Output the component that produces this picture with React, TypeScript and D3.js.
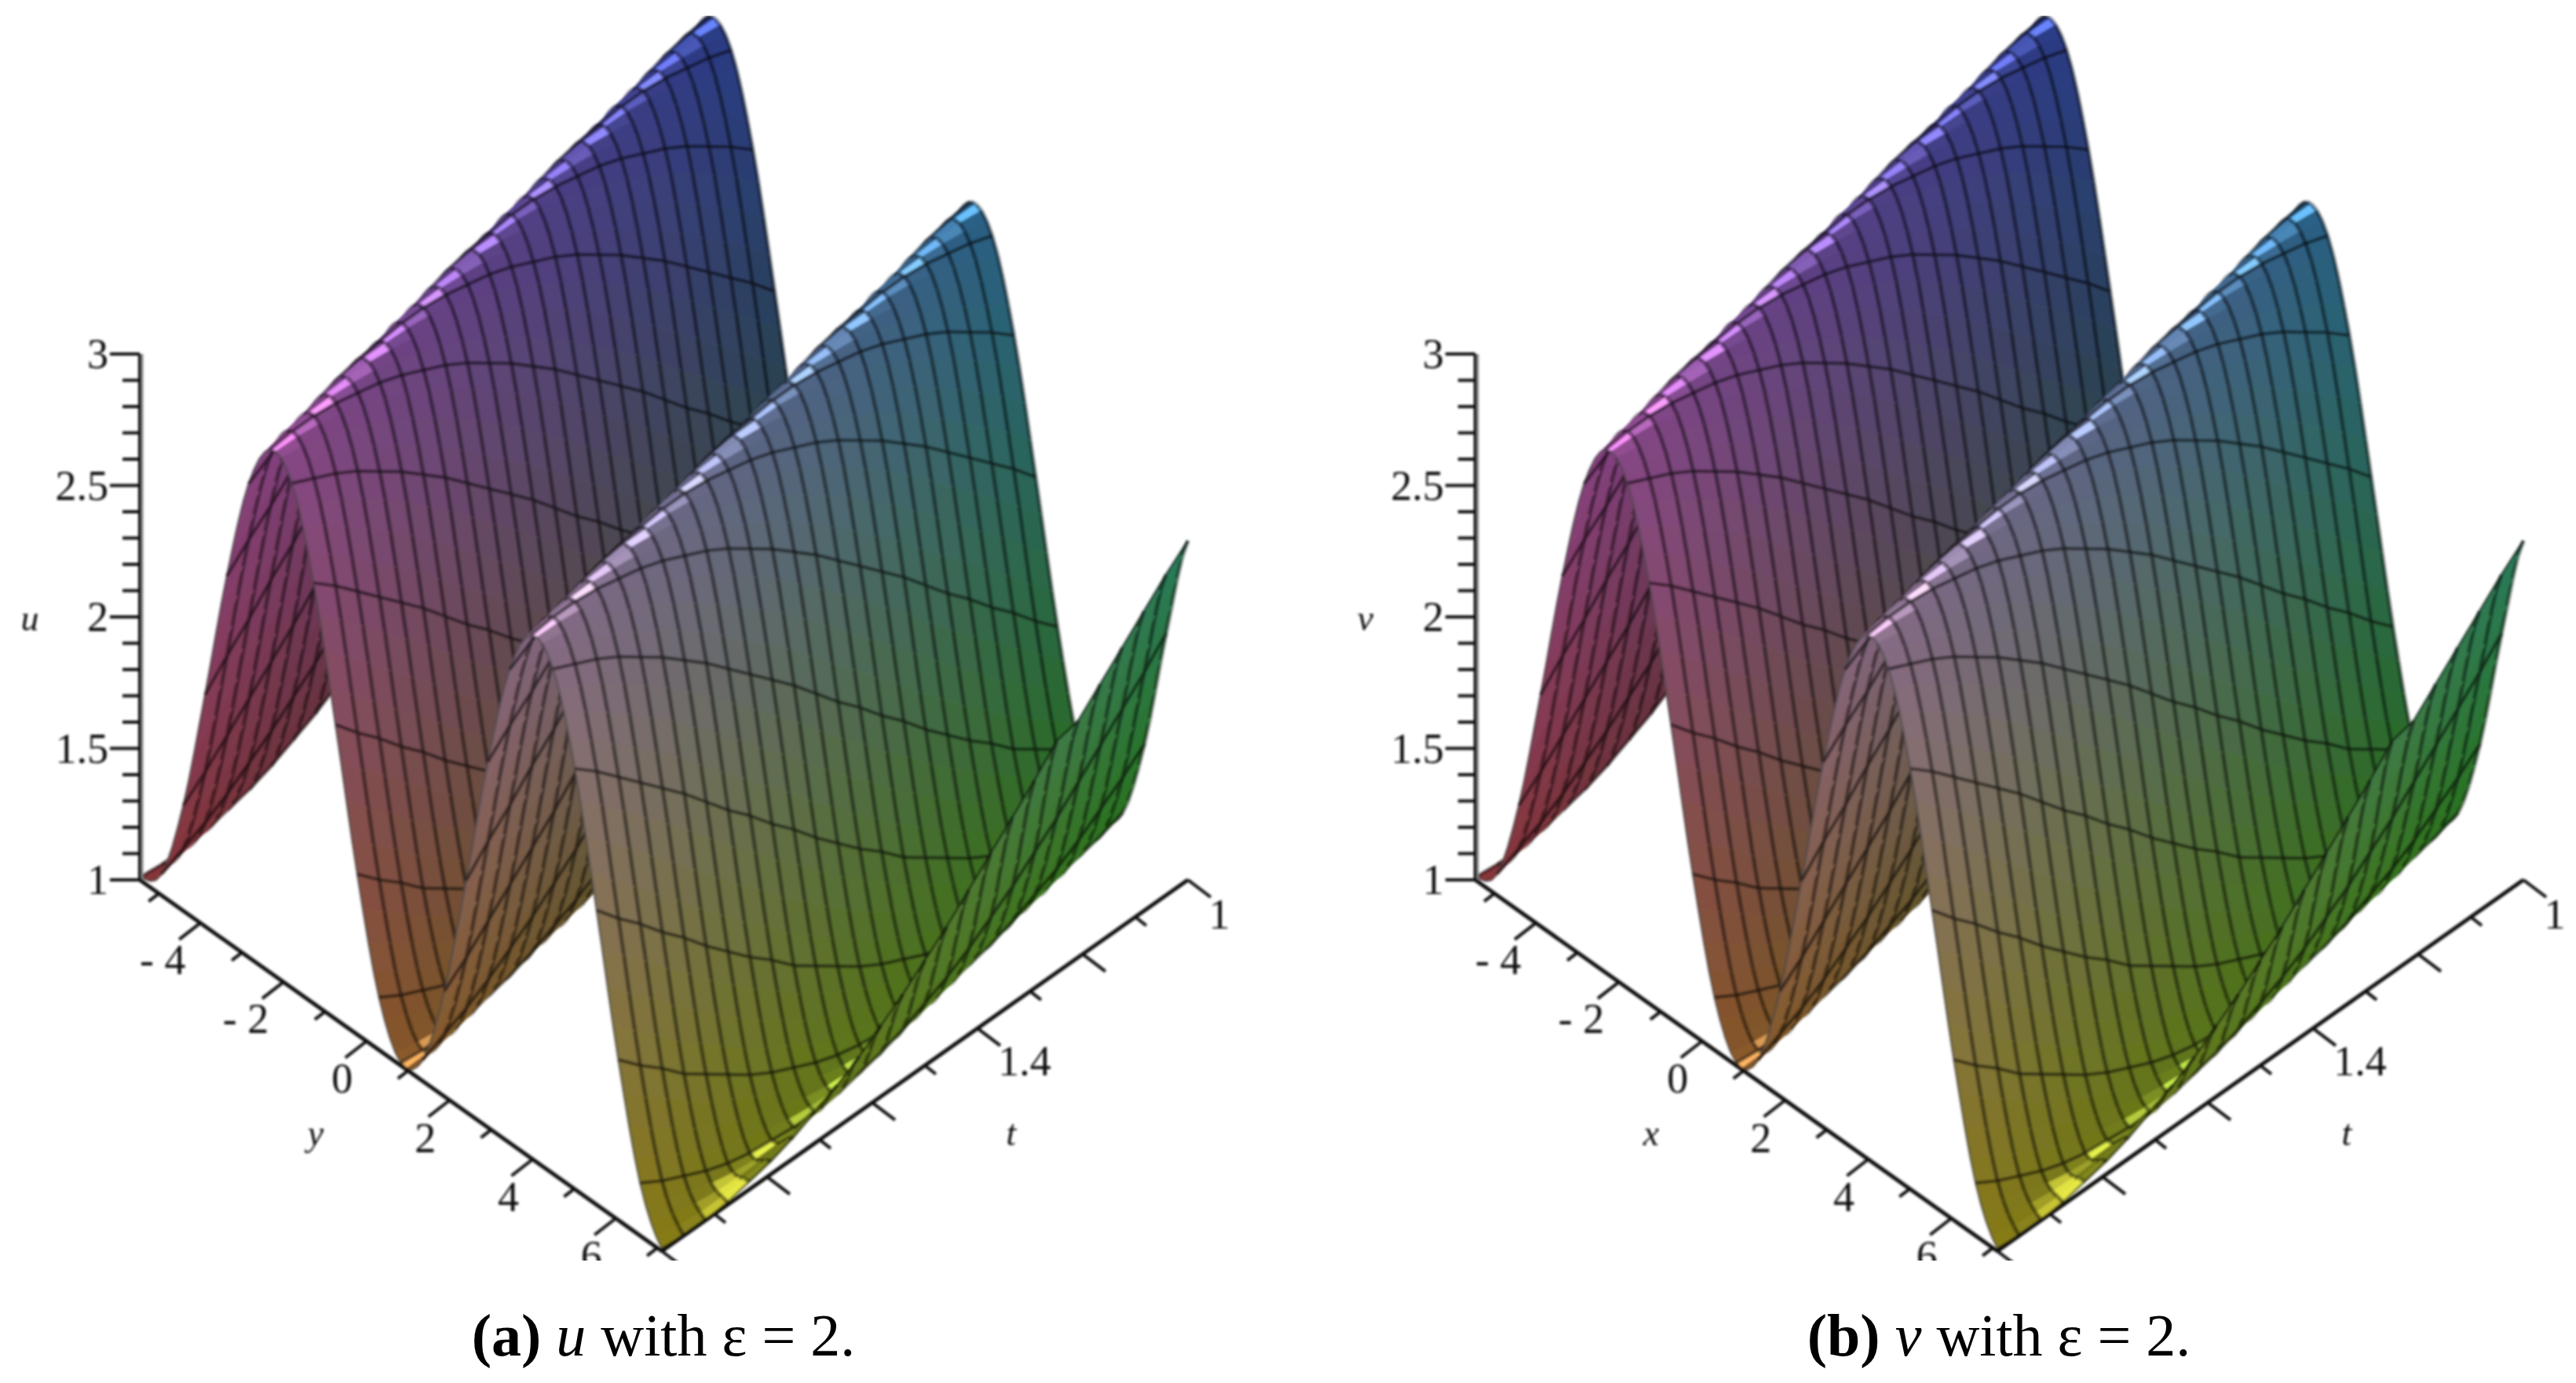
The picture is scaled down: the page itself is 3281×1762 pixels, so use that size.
import React, { useRef, useEffect } from "react";
import * as d3 from "d3";

// surface heights, row 0 is t = 2, row 24 is t = 1, columns run along the y axis
const uGrid = [
  [1.01,1.08,1.40,1.88,2.39,2.80,2.99,2.92,2.60,2.12,1.61,1.20,1.01,1.08,1.40,1.88,2.39,2.80,2.99,2.92,2.60,2.12,1.61,1.20,1.01],
  [1.00,1.12,1.47,1.97,2.47,2.85,3.00,2.88,2.53,2.03,1.53,1.15,1.00,1.12,1.47,1.97,2.47,2.85,3.00,2.88,2.53,2.03,1.53,1.15,1.00],
  [1.00,1.16,1.55,2.05,2.54,2.89,3.00,2.84,2.45,1.95,1.46,1.11,1.00,1.16,1.55,2.05,2.54,2.89,3.00,2.84,2.45,1.95,1.46,1.11,1.00],
  [1.01,1.21,1.63,2.14,2.62,2.93,2.99,2.79,2.37,1.86,1.38,1.07,1.01,1.21,1.63,2.14,2.62,2.93,2.99,2.79,2.37,1.86,1.38,1.07,1.01],
  [1.03,1.27,1.71,2.22,2.68,2.96,2.97,2.73,2.29,1.78,1.32,1.04,1.03,1.27,1.71,2.22,2.68,2.96,2.97,2.73,2.29,1.78,1.32,1.04,1.03],
  [1.05,1.33,1.79,2.31,2.74,2.98,2.95,2.67,2.21,1.69,1.26,1.02,1.05,1.33,1.79,2.31,2.74,2.98,2.95,2.67,2.21,1.69,1.26,1.02,1.05],
  [1.08,1.40,1.88,2.39,2.80,2.99,2.92,2.60,2.12,1.61,1.20,1.01,1.08,1.40,1.88,2.39,2.80,2.99,2.92,2.60,2.12,1.61,1.20,1.01,1.08],
  [1.12,1.47,1.97,2.47,2.85,3.00,2.88,2.53,2.03,1.53,1.15,1.00,1.12,1.47,1.97,2.47,2.85,3.00,2.88,2.53,2.03,1.53,1.15,1.00,1.12],
  [1.16,1.55,2.05,2.54,2.89,3.00,2.84,2.45,1.95,1.46,1.11,1.00,1.16,1.55,2.05,2.54,2.89,3.00,2.84,2.45,1.95,1.46,1.11,1.00,1.16],
  [1.21,1.63,2.14,2.62,2.93,2.99,2.79,2.37,1.86,1.38,1.07,1.01,1.21,1.63,2.14,2.62,2.93,2.99,2.79,2.37,1.86,1.38,1.07,1.01,1.21],
  [1.27,1.71,2.22,2.68,2.96,2.97,2.73,2.29,1.78,1.32,1.04,1.03,1.27,1.71,2.22,2.68,2.96,2.97,2.73,2.29,1.78,1.32,1.04,1.03,1.27],
  [1.33,1.79,2.31,2.74,2.98,2.95,2.67,2.21,1.69,1.26,1.02,1.05,1.33,1.79,2.31,2.74,2.98,2.95,2.67,2.21,1.69,1.26,1.02,1.05,1.33],
  [1.40,1.88,2.39,2.80,2.99,2.92,2.60,2.12,1.61,1.20,1.01,1.08,1.40,1.88,2.39,2.80,2.99,2.92,2.60,2.12,1.61,1.20,1.01,1.08,1.40],
  [1.47,1.97,2.47,2.85,3.00,2.88,2.53,2.03,1.53,1.15,1.00,1.12,1.47,1.97,2.47,2.85,3.00,2.88,2.53,2.03,1.53,1.15,1.00,1.12,1.47],
  [1.55,2.05,2.54,2.89,3.00,2.84,2.45,1.95,1.46,1.11,1.00,1.16,1.55,2.05,2.54,2.89,3.00,2.84,2.45,1.95,1.46,1.11,1.00,1.16,1.55],
  [1.63,2.14,2.62,2.93,2.99,2.79,2.37,1.86,1.38,1.07,1.01,1.21,1.63,2.14,2.62,2.93,2.99,2.79,2.37,1.86,1.38,1.07,1.01,1.21,1.63],
  [1.71,2.22,2.68,2.96,2.97,2.73,2.29,1.78,1.32,1.04,1.03,1.27,1.71,2.22,2.68,2.96,2.97,2.73,2.29,1.78,1.32,1.04,1.03,1.27,1.71],
  [1.79,2.31,2.74,2.98,2.95,2.67,2.21,1.69,1.26,1.02,1.05,1.33,1.79,2.31,2.74,2.98,2.95,2.67,2.21,1.69,1.26,1.02,1.05,1.33,1.79],
  [1.88,2.39,2.80,2.99,2.92,2.60,2.12,1.61,1.20,1.01,1.08,1.40,1.88,2.39,2.80,2.99,2.92,2.60,2.12,1.61,1.20,1.01,1.08,1.40,1.88],
  [1.97,2.47,2.85,3.00,2.88,2.53,2.03,1.53,1.15,1.00,1.12,1.47,1.97,2.47,2.85,3.00,2.88,2.53,2.03,1.53,1.15,1.00,1.12,1.47,1.90],
  [2.05,2.54,2.89,3.00,2.84,2.45,1.95,1.46,1.11,1.00,1.16,1.55,2.05,2.54,2.89,3.00,2.84,2.45,1.95,1.46,1.11,1.00,1.16,1.55,1.98],
  [2.14,2.62,2.93,2.99,2.79,2.37,1.86,1.38,1.07,1.01,1.21,1.63,2.14,2.62,2.93,2.99,2.79,2.37,1.86,1.38,1.07,1.01,1.21,1.63,2.06],
  [2.22,2.68,2.96,2.97,2.73,2.29,1.78,1.32,1.04,1.03,1.27,1.71,2.22,2.68,2.96,2.97,2.73,2.29,1.78,1.32,1.04,1.03,1.27,1.71,2.14],
  [2.31,2.74,2.98,2.95,2.67,2.21,1.69,1.26,1.02,1.05,1.33,1.79,2.31,2.74,2.98,2.95,2.67,2.21,1.69,1.26,1.02,1.05,1.33,1.79,2.22],
  [2.39,2.80,2.99,2.92,2.60,2.12,1.61,1.20,1.01,1.08,1.40,1.88,2.39,2.80,2.99,2.92,2.60,2.12,1.61,1.20,1.01,1.08,1.40,1.88,2.29],
];
const vGrid = uGrid;

const heightMajor = [1, 1.5, 2, 2.5, 3];
const heightMinor = [1.1, 1.2, 1.3, 1.4, 1.6, 1.7, 1.8, 1.9, 2.1, 2.2, 2.3, 2.4, 2.6, 2.7, 2.8, 2.9];
const spaceMajor = [-4, -2, 0, 2, 4, 6];
const spaceMinor = [-5, -3, -1, 1, 3, 5, 7];
const timeMajor = [1, 1.2, 1.4, 1.6, 1.8, 2];
const timeMinor = [1.1, 1.3, 1.5, 1.7, 1.9];
const timeLabels = [1, 1.4];
const heightLabels = ["1", "1.5", "2", "2.5", "3"];

const panels = [
  { grid: uGrid, dx: 0, zName: "u", yName: "y", letter: "a" },
  { grid: vGrid, dx: 1701, zName: "v", yName: "x", letter: "b" },
];

const serif = "'Liberation Serif', serif";
const spaceScale = d3.scaleLinear().domain([-5.46, 7.11]).range([0, 1]);
const timeScale = d3.scaleLinear().domain([2, 1]).range([0, 1]);
const heightScale = d3.scaleLinear().domain([1, 3]).range([0, 1]);

// colour goes with position in the box, like maple's xyz shading
const redScale = d3.scaleLinear().domain([0, 1]).range([134, 40]);
const greenScale = d3.scaleLinear().domain([0, 1]).range([50, 122]);
const blueScale = d3.scaleLinear().domain([0, 1]).range([22, 132]);
const blueTint = d3.scaleLinear().domain([0, 1]).range([34, 0]);

const OX = 178, OY = 1121;
const AX = 665, AY = 473, BX = 670, BY = -473, H = 670;
const SUB = 4;

function project(Y: number, T: number, U: number): [number, number] {
  return [OX + Y * AX + T * BX, OY + Y * AY + T * BY - U * H];
}

// smooth the row between the read columns so the curves do not look polygonal
function smoothRow(row: number[]) {
  const out: number[] = [];
  const n = row.length - 1;
  for (let j = 0; j < n; j++) {
    const p0 = row[Math.max(j - 1, 0)], p1 = row[j], p2 = row[j + 1], p3 = row[Math.min(j + 2, n)];
    for (let s = 0; s < SUB; s++) {
      const f = s / SUB;
      out.push(0.5 * (2 * p1 + (p2 - p0) * f + (2 * p0 - 5 * p1 + 4 * p2 - p3) * f * f + (3 * p1 - p0 - 3 * p2 + p3) * f * f * f));
    }
  }
  out.push(row[n]);
  return out;
}

function drawSurface(g: any, grid: number[][]) {
  const rows = grid.map((r) => smoothRow(r).map((u) => heightScale(u)));
  const nI = rows.length - 1;
  const nJ = rows[0].length - 1;
  const line = d3.line();
  const pt = (i: number, n: number) => project(n / nJ, i / nI, rows[i][n]);

  // height field, so painting far rows first and going along y is enough
  for (let i = nI - 1; i >= 0; i--) {
    for (let n = 0; n < nJ; n++) {
      const a = pt(i, n), b = pt(i, n + 1), c = pt(i + 1, n + 1), d = pt(i + 1, n);
      const Y = (n + 0.5) / nJ;
      const T = (i + 0.5) / nI;
      const U = (rows[i][n] + rows[i][n + 1] + rows[i + 1][n] + rows[i + 1][n + 1]) / 4;
      const dY = ((rows[i][n + 1] + rows[i + 1][n + 1] - rows[i][n] - rows[i + 1][n]) / 2) * nJ;
      const dT = ((rows[i + 1][n] + rows[i + 1][n + 1] - rows[i][n] - rows[i][n + 1]) / 2) * nI;
      const len = Math.sqrt(dY * dY + dT * dT + 1);
      const nh = (-dY * 0.14 + dT * 0.05 + 0.99) / len;
      const spec = Math.pow(Math.max(0, nh), 16);
      const mix = (v: number) => Math.min(255, v * (1 + 0.85 * spec) + 38 * spec);
      const fill = `rgb(${mix(redScale(T))},${mix(greenScale(Y))},${mix(blueScale(U) + blueTint(Y) * (1 - U))})`;
      g.append("path")
        .attr("d", line([a, b, c, d]) + "Z")
        .attr("fill", fill)
        .attr("stroke", fill)
        .attr("stroke-width", 1);
      g.append("path")
        .attr("d", line([d, c]))
        .attr("fill", "none")
        .attr("stroke", "rgba(0,0,0,0.45)")
        .attr("stroke-width", 5.2);
      if (i === 0) {
        g.append("path")
          .attr("d", line([a, b]))
          .attr("fill", "none")
          .attr("stroke", "rgba(70,70,70,0.55)")
          .attr("stroke-width", 3);
      }
      if (n % SUB === 0) {
        g.append("path")
          .attr("d", line([a, d]))
          .attr("fill", "none")
          .attr("stroke", "rgba(0,0,0,0.52)")
          .attr("stroke-width", 4.4);
      }
      if (n === nJ - 1) {
        g.append("path")
          .attr("d", line([b, c]))
          .attr("fill", "none")
          .attr("stroke", "rgba(0,0,0,0.55)")
          .attr("stroke-width", 3);
      }
    }
  }
}

function drawAxes(g: any) {
  const seg = (p: [number, number], q: [number, number], w = 4) =>
    g.append("line")
      .attr("x1", p[0]).attr("y1", p[1]).attr("x2", q[0]).attr("y2", q[1])
      .attr("stroke", "#111").attr("stroke-width", w);

  // vertical axis
  const zTop = project(0, 0, 1);
  const zBot = project(0, 0, 0);
  g.append("line")
    .attr("x1", zTop[0] + 3).attr("y1", zTop[1]).attr("x2", zBot[0] + 3).attr("y2", zBot[1])
    .attr("stroke", "#888").attr("stroke-width", 3);
  seg(zTop, zBot);
  heightMajor.forEach((u) => {
    const p = project(0, 0, heightScale(u));
    seg([p[0] - 38, p[1]], p);
  });
  heightMinor.forEach((u) => {
    const p = project(0, 0, heightScale(u));
    seg([p[0] - 22, p[1]], p);
  });

  // floor axes
  seg(project(0, 0, 0), project(1, 0, 0), 5);
  seg(project(1, 0, 0), project(1, 1, 0), 5);
  spaceMajor.forEach((y) => {
    const p = project(spaceScale(y), 0, 0);
    seg(p, [p[0] - 27, p[1] + 21]);
  });
  spaceMinor.forEach((y) => {
    const p = project(spaceScale(y), 0, 0);
    seg(p, [p[0] - 13, p[1] + 10]);
  });
  timeMajor.forEach((t) => {
    const p = project(1, timeScale(t), 0);
    seg(p, [p[0] + 29, p[1] + 22]);
  });
  timeMinor.forEach((t) => {
    const p = project(1, timeScale(t), 0);
    seg(p, [p[0] + 14, p[1] + 11]);
  });

  const label = (x: number, y: number, s: string, anchor = "middle") =>
    g.append("text")
      .attr("x", x).attr("y", y)
      .attr("text-anchor", anchor)
      .attr("font-family", serif)
      .attr("font-size", 54)
      .attr("fill", "#111")
      .text(s);

  heightMajor.forEach((u, i) => {
    const p = project(0, 0, heightScale(u));
    label(p[0] - 40, p[1] + 18, heightLabels[i], "end");
  });
  spaceMajor.forEach((y) => {
    const p = project(spaceScale(y), 0, 0);
    if (y < 0) label(p[0] - 48, p[1] + 65, "- " + Math.abs(y));
    else label(p[0] - 31, p[1] + 66, String(y));
  });
  timeLabels.forEach((t) => {
    const p = project(1, timeScale(t), 0);
    label(p[0] + (t === 1 ? 40 : 60), p[1] + (t === 1 ? 62 : 60), String(t));
  });
}

function Panel({ grid, dx, zName, yName }: any) {
  const ref = useRef<SVGGElement>(null);
  useEffect(() => {
    const root = d3.select(ref.current);
    root.selectChildren().remove();
    const g = root.append("g");
    drawSurface(g, grid);
    drawAxes(g);
    const names: [number, number, string][] = [
      [38, 803, zName],
      [402, 1459, yName],
      [1288, 1459, "t"],
    ];
    names.forEach(([x, y, s]) => {
      g.append("text")
        .attr("x", x).attr("y", y)
        .attr("text-anchor", "middle")
        .attr("font-family", serif)
        .attr("font-size", 46)
        .attr("font-style", "italic")
        .attr("fill", "#111")
        .text(s);
    });
  }, [grid, zName, yName]);
  return <g ref={ref} transform={`translate(${dx},0)`} />;
}

function Caption({ dx, letter, name }: any) {
  return (
    <text x={845 + dx} y={1727} textAnchor="middle" fontFamily={serif} fontSize={76} fill="#000">
      <tspan fontWeight="bold">({letter})</tspan>
      <tspan> </tspan>
      <tspan fontStyle="italic">{name}</tspan>
      <tspan> with ε = 2.</tspan>
    </text>
  );
}

export default function App() {
  return (
    <svg width={3281} height={1762} style={{ position: "absolute", left: 0, top: 0, background: "#fff" }}>
      <defs>
        <filter id="soft" x="0" y="0" width="100%" height="100%">
          <feGaussianBlur stdDeviation="1.6" />
        </filter>
        <clipPath id="crop">
          <rect x={0} y={0} width={3281} height={1606} />
        </clipPath>
      </defs>
      <g clipPath="url(#crop)">
        <g filter="url(#soft)">
          {panels.map((p) => (
            <Panel key={p.letter} grid={p.grid} dx={p.dx} zName={p.zName} yName={p.yName} />
          ))}
        </g>
      </g>
      {panels.map((p) => (
        <Caption key={p.letter} dx={p.dx} letter={p.letter} name={p.zName} />
      ))}
    </svg>
  );
}
